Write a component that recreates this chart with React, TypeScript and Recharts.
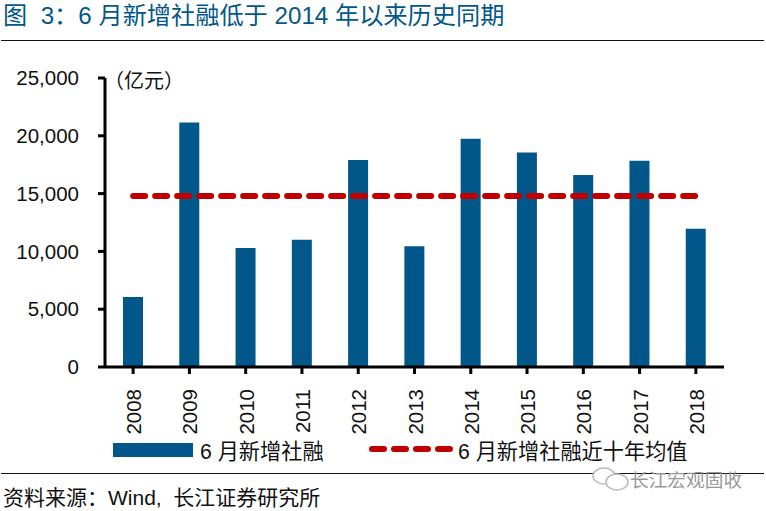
import React from 'react';
import { ComposedChart, Bar, Line, XAxis, YAxis, Legend } from 'recharts';

const years = ['2008', '2009', '2010', '2011', '2012', '2013', '2014', '2015', '2016', '2017', '2018'];
const newFinancing = [6050, 21150, 10300, 11000, 17900, 10450, 19750, 18550, 16600, 17850, 11950];
const tenYearAvg = [14800, 14800, 14800, 14800, 14800, 14800, 14800, 14800, 14800, 14800, 14800];
const yTicks = [0, 5000, 10000, 15000, 20000, 25000];

const chartData = years.map((year, i) => ({
  year,
  financing: newFinancing[i],
  avg: tenYearAvg[i],
}));

const FONT = 'Arial, "Liberation Sans", "Noto Sans CJK SC", sans-serif';
const CJK = '"Liberation Sans", "Noto Sans CJK SC", sans-serif';
const BLUE = '#02578A';
const RED = '#C00000';

const YearTick = ({ x, y, payload }: any) => (
  <text
    transform={`translate(${x + 8},${y + 13}) rotate(-90)`}
    textAnchor="end"
    fontSize={20.5}
    fontFamily={FONT}
    fill="#111"
  >
    {payload.value}
  </text>
);

const ChartLegend = () => (
  <div style={{ position: 'relative', width: 766, height: 30, fontFamily: CJK, fontSize: 21.2, color: '#111' }}>
    <svg width={766} height={30} style={{ position: 'absolute', left: 0, top: 0 }}>
      <rect x={113} y={8} width={80} height={14} fill={BLUE} />
      <line x1={372} x2={452} y1={14} y2={14} stroke={RED} strokeWidth={6} strokeDasharray="12 10" strokeLinecap="round" />
    </svg>
    <span style={{ position: 'absolute', left: 200, top: -1, whiteSpace: 'nowrap' }}>6 月新增社融</span>
    <span style={{ position: 'absolute', left: 458, top: -1, whiteSpace: 'nowrap' }}>6 月新增社融近十年均值</span>
  </div>
);

const App = () => (
  <div style={{ position: 'absolute', left: 0, top: 0, width: 766, height: 511, background: '#fff', overflow: 'hidden' }}>
    <div style={{ position: 'absolute', left: 3, top: 2, fontFamily: CJK, fontSize: 24.2, lineHeight: '28px', color: '#02578A', whiteSpace: 'pre' }}>
      图  3：6 月新增社融低于 2014 年以来历史同期
    </div>
    <div style={{ position: 'absolute', left: 1, top: 40, width: 763, height: 1, background: '#111' }} />
    <ComposedChart
      width={766}
      height={511}
      data={chartData}
      margin={{ top: 78, right: 42, bottom: 85, left: 35 }}
      barCategoryGap="32%"
      style={{ position: 'absolute', left: 0, top: 0 }}
    >
      <XAxis
        dataKey="year"
        interval={0}
        height={29}
        tick={<YearTick />}
        tickSize={7}
        axisLine={{ stroke: '#000', strokeWidth: 3 }}
        tickLine={{ stroke: '#000', strokeWidth: 3 }}
      />
      <YAxis
        domain={[0, 25000]}
        ticks={yTicks}
        width={70}
        tickSize={7}
        tickMargin={19}
        tickFormatter={(v: number) => v.toLocaleString('en-US')}
        tick={{ fontSize: 20.5, fontFamily: FONT, fill: '#111' }}
        axisLine={{ stroke: '#000', strokeWidth: 3 }}
        tickLine={{ stroke: '#000', strokeWidth: 3 }}
      />
      <Bar dataKey="financing" fill={BLUE} isAnimationActive={false} />
      <Line
        dataKey="avg"
        stroke={RED}
        strokeWidth={6}
        strokeDasharray="12 10"
        strokeLinecap="round"
        dot={false}
        isAnimationActive={false}
      />
      <Legend content={<ChartLegend />} wrapperStyle={{ left: 0, top: 435, width: 766, height: 30 }} />
    </ComposedChart>
    <div style={{ position: 'absolute', left: 1, top: 473, width: 763, height: 1, background: '#111' }} />
    <div style={{ position: 'absolute', left: 3, top: 487, fontFamily: CJK, fontSize: 21, lineHeight: '22px', color: '#111', whiteSpace: 'pre' }}>
      资料来源：Wind,  长江证券研究所
    </div>
    <div style={{ position: 'absolute', left: 104, top: 65, fontFamily: CJK, fontSize: 20, color: '#111', whiteSpace: 'nowrap' }}>
      （亿元）
    </div>
    <svg width={50} height={30} style={{ position: 'absolute', left: 588, top: 464 }}>
      <ellipse cx={16} cy={12} rx={11} ry={8} fill="#fff" stroke="#bbb" strokeWidth={1.5} />
      <ellipse cx={29} cy={18} rx={11} ry={8} fill="#fff" stroke="#bbb" strokeWidth={1.5} />
    </svg>
    <div style={{ position: 'absolute', left: 630, top: 465, fontFamily: CJK, fontSize: 18.7, color: '#999', whiteSpace: 'nowrap' }}>
      长江宏观固收
    </div>
  </div>
);

export default App;
